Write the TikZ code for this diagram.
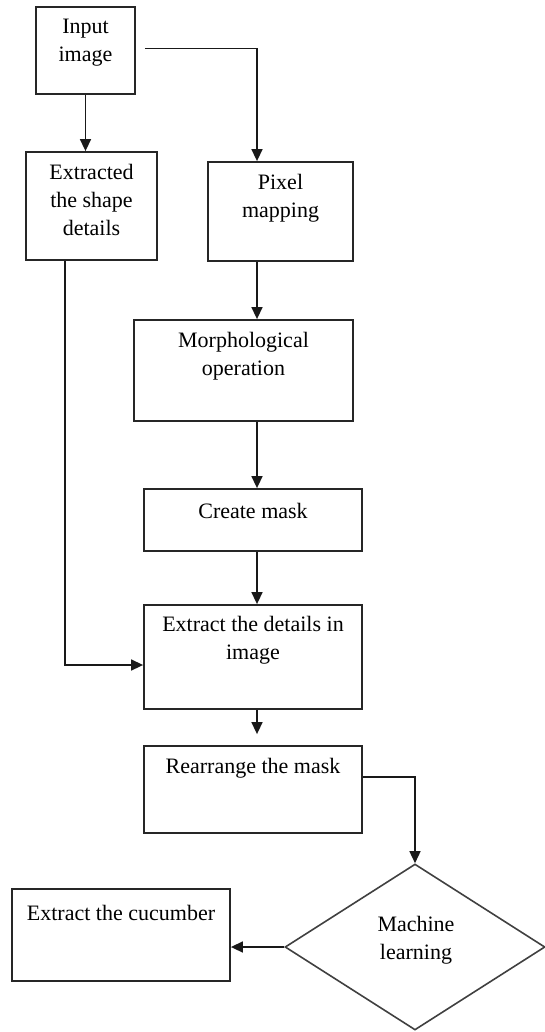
\documentclass[tikz,border=0pt]{standalone}
\usepackage{fontspec}
\setmainfont{Liberation Serif}
\usetikzlibrary{positioning,shapes.geometric,arrows.meta}

\begin{document}
\begin{tikzpicture}
  [x=1pt,y=-1pt,
   box/.style={draw=black!85,line width=1.8pt,inner sep=0pt},
   dia/.style={diamond,draw=black!75,line width=1.6pt,inner sep=0pt},
   lbl/.style={inner sep=0pt,align=center},
   arr/.style={draw=black!90,line width=1.5pt,-{Triangle[length=12pt,width=11pt]}},
   every node/.append style={font=\fontsize{22}{28}\selectfont}]
  \useasboundingbox (0,0) rectangle (544,1032);

  % boxes
  \node[box,minimum width=99pt,minimum height=87pt] (inp) at (85.5,50.5) {};
  \node[box,minimum width=131pt,minimum height=108pt] (shp) at (91.5,206) {};
  \node[box,minimum width=145pt,minimum height=99pt] (pix) at (280.5,211.5) {};
  \node[box,minimum width=219pt,minimum height=101pt] (mor) at (243.5,370.5) {};
  \node[box,minimum width=218pt,minimum height=62pt] (msk) at (253,520) {};
  \node[box,minimum width=218pt,minimum height=104pt] (det) at (253,657) {};
  \node[box,minimum width=218pt,minimum height=87pt] (rea) at (253,789.5) {};
  \node[dia,minimum width=260pt,minimum height=166pt] (ml) at (415,947) {};
  \node[box,minimum width=218pt,minimum height=92pt] (cuc) at (121,935) {};

  % texts
  \node[lbl,below=13pt of inp.north] (inpt) {Input\\image};
  \node[lbl,below=13pt of shp.north] (shpt) {Extracted\\the shape\\details};
  \node[lbl,below=13pt of pix.north] (pixt) {Pixel\\mapping};
  \node[lbl,below=13pt of mor.north] (mort) {Morphological\\operation};
  \node[lbl,below=15pt of msk.north] (mskt) {Create mask};
  \node[lbl,below=12pt of det.north] (dett) {Extract the details in\\image};
  \node[lbl,below=13pt of rea.north] (reat) {Rearrange the mask};
  \node[lbl] (mlt) at (416,940) {Machine\\learning};
  \node[lbl,below=17pt of cuc.north] (cuct) {Extract the cucumber};

  % connectors
  \coordinate (mid) at (257,0);
  \coordinate (lft) at (65,0);
  \draw[arr] (inp) -- (inp |- shp.north);
  \draw[arr] ([xshift=9pt,yshift=2pt]inp.east) -| (pix.north -| mid);
  \foreach \from/\to in {pix/mor,mor/msk,msk/det}
    \draw[arr] (\from.south -| mid) -- (\to.north -| mid);
  \draw[arr,shorten >=11pt] (det.south -| mid) -- (rea.north -| mid);
  \draw[arr] (shp.south -| lft) |- ([yshift=-8pt]det.west);
  \draw[arr] ([yshift=12.5pt]rea.east) -| (ml.north);
  \draw[arr] (ml.west) -- (ml.west -| cuc.east);

\end{tikzpicture}
\end{document}
